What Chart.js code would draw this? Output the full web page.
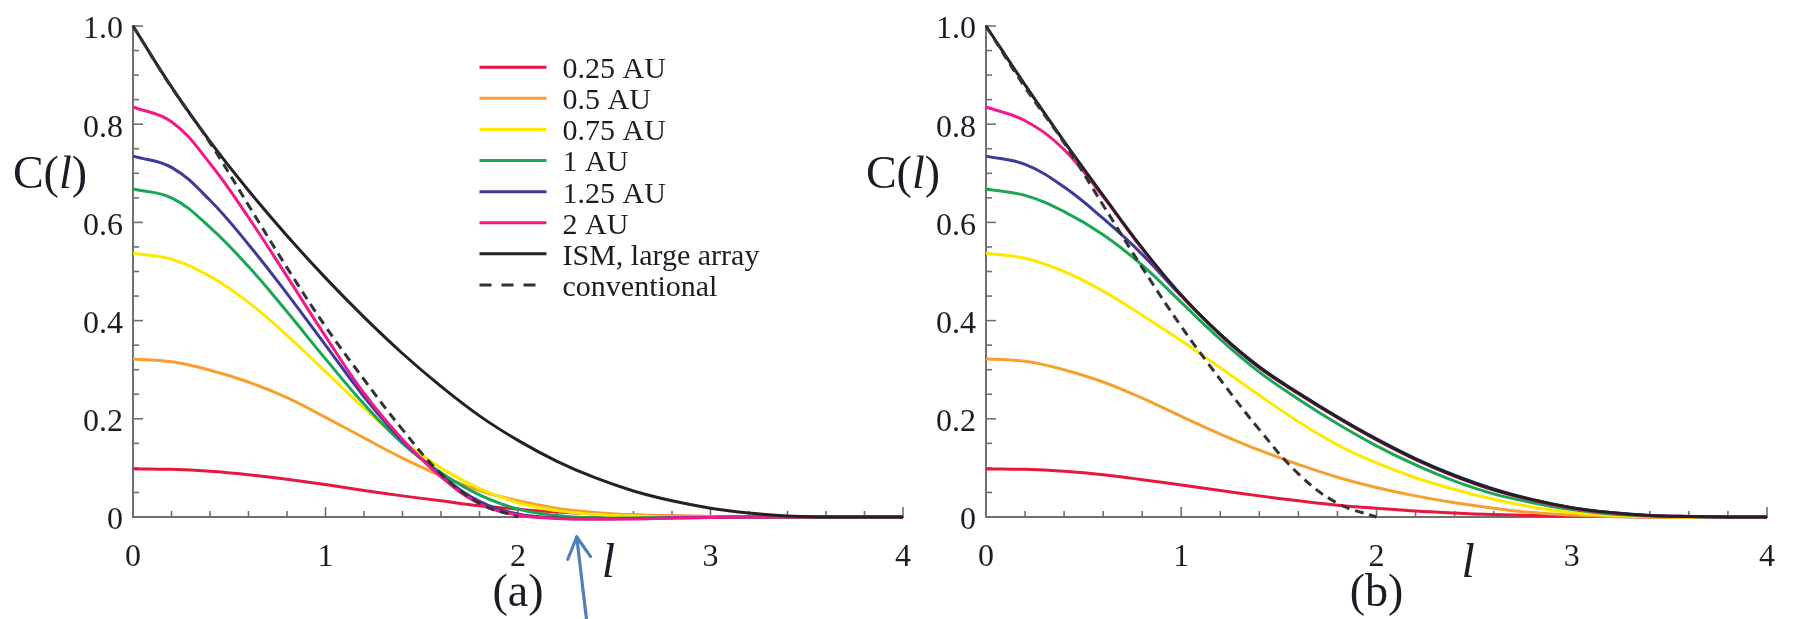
<!DOCTYPE html>
<html>
<head>
<meta charset="utf-8">
<script src="https://cdn.jsdelivr.net/npm/chart.js@4.4.1/dist/chart.umd.min.js"></script>
<style>
  html, body { margin: 0; padding: 0; background: #fff; }
  #wrap { position: relative; width: 1800px; height: 619px; overflow: hidden; }
  #wrap canvas { position: absolute; left: 0; top: 0; }
</style>
</head>
<body>
<div id="wrap">
  <canvas id="panelA" width="1800" height="619"></canvas>
  <canvas id="panelB" width="1800" height="619"></canvas>
</div>
<script>
// baseline length l, shared by every curve
const ell = [0, 0.2, 0.4, 0.6, 0.8, 1.0, 1.2, 1.4, 1.6, 1.8, 2.0,
             2.2, 2.4, 2.6, 2.8, 3.0, 3.2, 3.4, 3.6, 3.8, 4.0];

const seriesLabels = ['0.25 AU', '0.5 AU', '0.75 AU', '1 AU', '1.25 AU', '2 AU',
                      'ISM, large array', 'conventional'];

// (a)
const a025 = [0.098, 0.097, 0.093, 0.086, 0.077, 0.066, 0.054, 0.043, 0.033, 0.023, 0.016,
              0.010, 0.006, 0.004, 0.002, 0.001, 0, 0, 0, 0, 0];
const a050 = [0.322, 0.316, 0.299, 0.275, 0.243, 0.203, 0.161, 0.120, 0.084, 0.054, 0.033,
              0.018, 0.009, 0.004, 0.002, 0.001, 0, 0, 0, 0, 0];
const a075 = [0.537, 0.525, 0.490, 0.437, 0.370, 0.296, 0.222, 0.155, 0.100, 0.058, 0.029,
              0.013, 0.005, 0.002, 0, 0, 0, 0, 0, 0, 0];
const a100 = [0.668, 0.650, 0.590, 0.510, 0.418, 0.322, 0.230, 0.150, 0.090, 0.045, 0.016,
              0.003, -0.002, -0.002, -0.001, 0, 0, 0, 0, 0, 0];
const a125 = [0.735, 0.712, 0.645, 0.555, 0.455, 0.350, 0.245, 0.155, 0.085, 0.032, 0.006,
              -0.002, -0.004, -0.003, -0.002, -0.001, 0, 0, 0, 0, 0];
const a200 = [0.835, 0.805, 0.720, 0.610, 0.490, 0.368, 0.252, 0.158, 0.082, 0.027, 0.004,
              -0.003, -0.004, -0.004, -0.002, -0.001, 0, 0, 0, 0, 0];
const aISM = [1.000, 0.876, 0.765, 0.665, 0.573, 0.487, 0.407, 0.333, 0.266, 0.206, 0.156,
              0.114, 0.080, 0.053, 0.033, 0.018, 0.008, 0.002, 0, 0, 0];

// (b)
const b025 = [0.098, 0.097, 0.093, 0.086, 0.076, 0.065, 0.054, 0.043, 0.033, 0.024, 0.018,
              0.012, 0.008, 0.005, 0.003, 0.002, 0.001, 0, 0, 0, 0];
const b050 = [0.322, 0.317, 0.300, 0.275, 0.242, 0.205, 0.169, 0.136, 0.107, 0.081, 0.060,
              0.043, 0.029, 0.018, 0.009, 0.004, 0.001, 0, 0, 0, 0];
const b075 = [0.537, 0.527, 0.500, 0.460, 0.411, 0.359, 0.304, 0.248, 0.194, 0.147, 0.110,
              0.080, 0.056, 0.036, 0.020, 0.009, 0.003, 0.001, 0, 0, 0];
const b100 = [0.668, 0.655, 0.622, 0.575, 0.513, 0.437, 0.362, 0.295, 0.240, 0.190, 0.145,
              0.106, 0.073, 0.047, 0.029, 0.015, 0.006, 0.002, 0.001, 0, 0];
const b125 = [0.735, 0.718, 0.672, 0.608, 0.535, 0.450, 0.372, 0.306, 0.253, 0.204, 0.159,
              0.119, 0.085, 0.057, 0.035, 0.019, 0.009, 0.003, 0.001, 0, 0];
const b200 = [0.835, 0.807, 0.748, 0.652, 0.546, 0.451, 0.371, 0.304, 0.251, 0.202, 0.157,
              0.117, 0.083, 0.055, 0.034, 0.018, 0.008, 0.003, 0.001, 0, 0];
const bISM = [1.000, 0.880, 0.765, 0.655, 0.548, 0.452, 0.372, 0.305, 0.252, 0.203, 0.158,
              0.118, 0.084, 0.056, 0.035, 0.019, 0.009, 0.003, 0.001, 0, 0];

// same in both panels, ends at l = 2
const conventional = [1.000, 0.875, 0.762, 0.635, 0.508, 0.388, 0.280, 0.178, 0.088, 0.028, 0,
                      null, null, null, null, null, null, null, null, null, null];

const lineColors = ['#e8173c', '#f5a031', '#fde900', '#1aa653', '#3c3a9a', '#f2198a', '#222222', '#333333'];

const SERIF = "'Liberation Serif', serif";
const INK = '#1c1c26';
const AXIS = '#707070';

function seg(ctx, x1, y1, x2, y2) {
  ctx.beginPath();
  ctx.moveTo(x1, y1);
  ctx.lineTo(x2, y2);
  ctx.stroke();
}

// Mathematica-style ticks pointing into the plot
function drawInnerTicks(chart) {
  const { ctx, chartArea, scales: { x, y } } = chart;
  ctx.save();
  ctx.strokeStyle = AXIS;
  ctx.lineWidth = 1.6;
  for (let k = 0; k <= 20; k++) {
    const py = y.getPixelForValue(k * 0.05);
    seg(ctx, chartArea.left, py, chartArea.left + (k % 4 === 0 ? 10 : 6), py);
  }
  for (let k = 0; k <= 20; k++) {
    const px = x.getPixelForValue(k * 0.2);
    seg(ctx, px, chartArea.bottom, px, chartArea.bottom - (k % 5 === 0 ? 10 : 6));
  }
  ctx.restore();
}

function drawYTitle(chart) {
  const { ctx, chartArea, scales: { y } } = chart;
  const pieces = [['C(', ''], ['l', 'italic '], [')', '']];
  ctx.save();
  ctx.fillStyle = INK;
  ctx.textBaseline = 'alphabetic';
  ctx.textAlign = 'left';
  const widths = pieces.map(([t, st]) => {
    ctx.font = st + '46px ' + SERIF;
    return ctx.measureText(t).width;
  });
  const total = widths.reduce((s, w) => s + w, 0);
  let xx = chartArea.left - 46 - total;
  const base = y.getPixelForValue(0.67);
  pieces.forEach(([t, st], i) => {
    ctx.font = st + '46px ' + SERIF;
    ctx.fillText(t, xx, base);
    xx += widths[i];
  });
  ctx.restore();
}

function drawBottomText(chart, tag) {
  const { ctx, chartArea, scales: { x } } = chart;
  ctx.save();
  ctx.fillStyle = INK;
  ctx.textAlign = 'center';
  ctx.textBaseline = 'alphabetic';
  ctx.font = 'italic 48px ' + SERIF;
  ctx.fillText('l', x.getPixelForValue(2.47), chartArea.bottom + 60);
  ctx.font = '46px ' + SERIF;
  ctx.fillText(tag, x.getPixelForValue(2.0), chartArea.bottom + 89);
  ctx.restore();
}

function drawLegend(chart) {
  const { ctx, scales: { x, y } } = chart;
  const x0 = x.getPixelForValue(1.8);
  let yy = y.getPixelForValue(0.916);
  ctx.save();
  chart.data.datasets.forEach(ds => {
    const dashed = ds.borderDash.length > 0;
    ctx.strokeStyle = ds.borderColor;
    ctx.lineWidth = 3;
    ctx.setLineDash(dashed ? [12, 10] : []);
    seg(ctx, x0, yy, x0 + (dashed ? 57 : 67), yy);
    ctx.setLineDash([]);
    ctx.fillStyle = INK;
    ctx.font = '30px ' + SERIF;
    ctx.textAlign = 'left';
    ctx.textBaseline = 'middle';
    ctx.fillText(ds.label, x0 + 83, yy + 3);
    yy += 31.1;
  });
  ctx.restore();
}

// pointer under the (a) axis where the curves dip
function drawArrow(chart) {
  const { ctx, chartArea, scales: { x } } = chart;
  const tipX = x.getPixelForValue(2.305);
  const tipY = chartArea.bottom + 20;
  const tailX = tipX + 10;
  const tailY = chart.height + 2;
  const ang = Math.atan2(tailY - tipY, tailX - tipX);
  ctx.save();
  ctx.strokeStyle = '#4f7fbd';
  ctx.lineWidth = 3.2;
  ctx.lineCap = 'round';
  seg(ctx, tipX, tipY, tailX, tailY);
  [0.5, -0.5].forEach(d => {
    seg(ctx, tipX, tipY, tipX + 24 * Math.cos(ang + d), tipY + 24 * Math.sin(ang + d));
  });
  ctx.restore();
}

function buildDatasets(columns) {
  return columns.map((vals, i) => ({
    label: seriesLabels[i],
    data: ell.map((l, k) => ({ x: l, y: vals[k] })),
    borderColor: lineColors[i],
    borderWidth: 3,
    borderDash: i === 7 ? [9, 6] : [],
    pointRadius: 0,
    tension: 0.4,
    fill: false,
    clip: false,
    order: columns.length - i
  }));
}

function makePanel(id, columns, left, right, extras) {
  const tickFont = { family: SERIF, size: 32, lineHeight: 1 };
  return new Chart(document.getElementById(id), {
    type: 'line',
    data: { datasets: buildDatasets(columns) },
    options: {
      responsive: false,
      animation: false,
      events: [],
      layout: { padding: { left: left.pad, right: right, top: 18, bottom: 0 } },
      plugins: { legend: { display: false }, tooltip: { enabled: false } },
      scales: {
        x: {
          type: 'linear', min: 0, max: 4,
          ticks: { stepSize: 1, font: tickFont, color: INK, padding: 25,
                   callback: v => String(v) },
          grid: { display: true, drawOnChartArea: false, drawTicks: false },
          border: { display: true, color: AXIS, width: 2 },
          afterFit: s => { s.height = 102; }
        },
        y: {
          min: 0, max: 1,
          ticks: { stepSize: 0.2, font: tickFont, color: INK, padding: 10, labelOffset: 4,
                   callback: v => (Math.abs(v) < 1e-9 ? '0' : v.toFixed(1)) },
          grid: { display: true, drawOnChartArea: false, drawTicks: false },
          border: { display: true, color: AXIS, width: 2 },
          afterFit: s => { s.width = left.axis; }
        }
      }
    },
    plugins: [{
      id: 'decor',
      beforeDatasetsDraw: drawInnerTicks,
      afterDraw: chart => {
        drawYTitle(chart);
        drawBottomText(chart, extras.tag);
        if (extras.legend) drawLegend(chart);
        if (extras.arrow) drawArrow(chart);
      }
    }]
  });
}

makePanel('panelA', [a025, a050, a075, a100, a125, a200, aISM, conventional],
          { pad: 0, axis: 133 }, 1800 - 903, { tag: '(a)', legend: true, arrow: true });
makePanel('panelB', [b025, b050, b075, b100, b125, b200, bISM, conventional],
          { pad: 926, axis: 60 }, 1800 - 1776, { tag: '(b)' });
</script>
</body>
</html>
